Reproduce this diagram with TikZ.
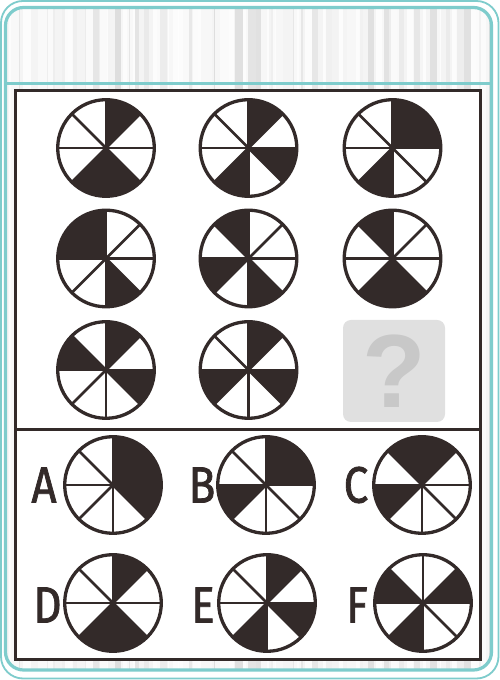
\documentclass[tikz,border=0pt]{standalone}
\usepackage{fontspec}
\setmainfont{Fira Sans}
\newfontfamily\qfont{Liberation Sans}
\newfontfamily\letterfont[FakeBold=1.6]{Fira Sans}
\definecolor{dk}{RGB}{51,42,41}
\definecolor{teal1}{RGB}{126,204,204}
\definecolor{qbg}{RGB}{224,224,224}
\definecolor{qfg}{RGB}{200,200,200}
\def\R{48.3}
\newcommand{\piechart}[3]{%
  \coordinate (#1) at #2;
  \begin{scope}[shift={(#1)}]
    \foreach \k in {#3} {\fill[dk] (0,0) -- (90-45*\k:\R) arc[start angle=90-45*\k, end angle=45-45*\k, radius=\R] -- cycle;}
    \foreach \a in {0,45,90,135} {\draw[dk, line width=2.7] (\a:\R) -- (\a+180:\R);}
    \draw[dk, line width=3.3] (0,0) circle[radius=\R];
  \end{scope}}
\tikzset{
  letter/.style={text=dk, font=\letterfont\fontsize{51}{51}\selectfont, xscale=0.86, inner sep=0}
}
\begin{document}
\begin{tikzpicture}[x=1pt,y=1pt]
\useasboundingbox (0,0) rectangle (500,680);
\fill[white] (0,0) rectangle (500,680);
% outer frame
\draw[teal1, line width=1.8, rounded corners=22] (1,1.5) rectangle (498.5,679);
% inner silver fill
\begin{scope}
  \clip[rounded corners=18] (5.5,10) rectangle (491.5,672.5);
  \fill[gray!9] (0,0) rectangle (500,680);
  \pgfmathsetseed{5}
  \foreach \i in {0,...,45} {
    \pgfmathsetmacro\xx{11*\i+8*rnd}
    \pgfmathsetmacro\ww{3+10*rnd}
    \pgfmathsetmacro\gg{3+10*rnd}
    \fill[black!\gg] (\xx,0) rectangle ++(\ww,680);
  }
  \foreach \i in {0,...,30} {
    \pgfmathsetmacro\xx{16*\i+10*rnd}
    \pgfmathsetmacro\ww{3+8*rnd}
    \fill[white, opacity=0.75] (\xx,0) rectangle ++(\ww,680);
  }
\end{scope}
\draw[teal1, line width=3.2, rounded corners=18] (5.5,10) rectangle (491.5,672.5);
\draw[teal1, line width=3.2] (5.5,596.5) -- (491.5,596.5);
% white panel
\draw[dk, line width=3, fill=white] (15,20) rectangle (480,589.3);
\draw[dk, line width=3] (15,250) -- (480,250);
% matrix
\piechart{p11}{(106,532)}{0,3,4}
\piechart{p12}{(248.5,532)}{0,2,4}
\piechart{p13}{(392.5,532)}{0,1,4}
\piechart{p21}{(106,421.5)}{3,6,7}
\piechart{p22}{(248.5,421.5)}{3,5,7}
\piechart{p23}{(392.5,421.5)}{3,4,7}
\piechart{p31}{(106,310)}{0,2,6}
\piechart{p32}{(248.5,310)}{0,2,5}
% question box
\fill[qbg, rounded corners=8] (343,258) rectangle (445,360);
\node[text=qfg, font=\qfont\fontsize{104}{104}\selectfont\bfseries, inner sep=0] (q) at (394,309) {?};
% options
\piechart{oa}{(113,195)}{0,1,2}
\piechart{ob}{(266,195)}{0,1,5}
\piechart{oc}{(422,195)}{7,0,5}
\piechart{od}{(113,77)}{0,3,4}
\piechart{oe}{(267,77)}{0,2,4}
\piechart{of}{(423,77)}{1,4,6}
\node[letter] (la) at (44,195) {A};
\node[letter] (lb) at (202,195) {B};
\node[letter] (lc) at (356,195) {C};
\node[letter] (ld) at (47.5,75) {D};
\node[letter] (le) at (203,75) {E};
\node[letter] (lf) at (357,75) {F};
\end{tikzpicture}
\end{document}
